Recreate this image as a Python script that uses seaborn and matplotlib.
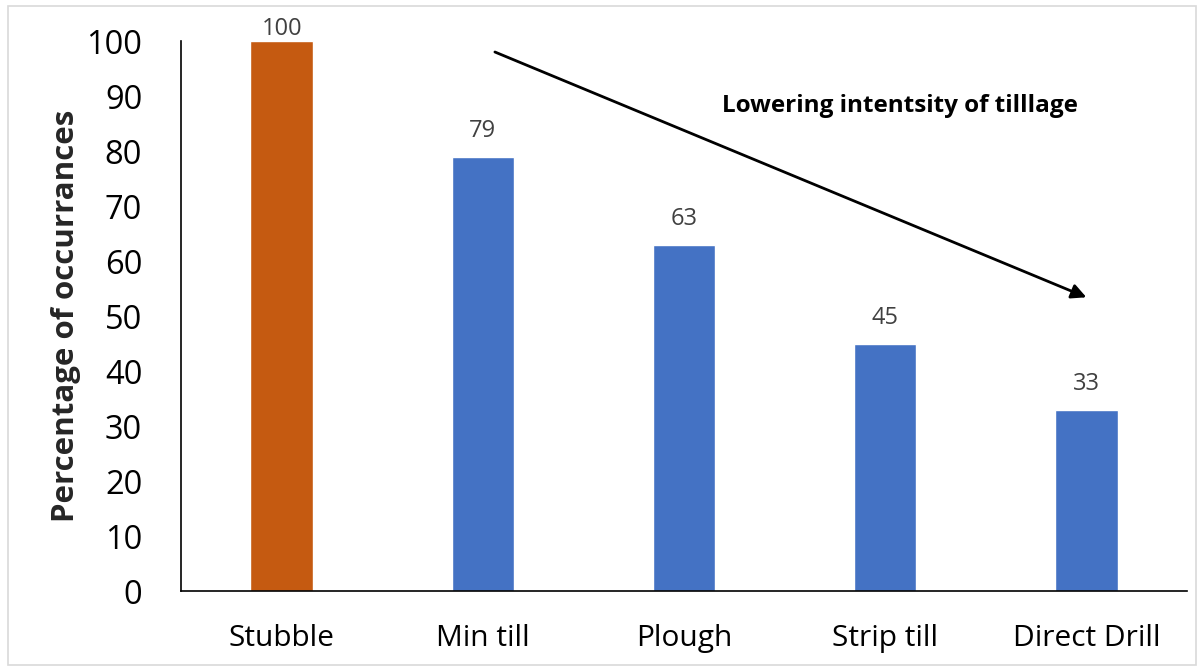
import matplotlib
matplotlib.use("Agg")
import matplotlib.pyplot as plt
import seaborn as sns
import pandas as pd
from matplotlib.patches import Rectangle

categories = ["Stubble", "Min till", "Plough", "Strip till", "Direct Drill"]
values = [100, 79, 63, 45, 33]
bar_colors = ["#C55A11", "#4472C4", "#4472C4", "#4472C4", "#4472C4"]
y_ticks = [0, 10, 20, 30, 40, 50, 60, 70, 80, 90, 100]

sns.set_theme(style="white")
plt.rcParams["font.family"] = ["Open Sans", "DejaVu Sans"]

df = pd.DataFrame({"method": categories, "pct": values})

fig = plt.figure(figsize=(12.03, 6.70), dpi=100)
ax = fig.add_axes([0.1505, 0.1179, 0.8362, 0.8209])

sns.barplot(data=df, x="method", y="pct", hue="method", palette=bar_colors,
            width=0.31, legend=False, ax=ax, saturation=1)

ax.set_xlim(-0.5, 4.5)
ax.set_ylim(0, 100)
ax.set_yticks(y_ticks)
ax.tick_params(axis="y", labelsize=23.5, length=0, pad=28, colors="black")
ax.tick_params(axis="x", labelsize=21.5, length=0, pad=24, colors="black")
ax.set_xlabel("")
ax.set_ylabel("Percentage of occurrances", fontsize=22.5, fontweight="bold",
              labelpad=4)

for side in ("top", "right"):
    ax.spines[side].set_visible(False)
for side in ("left", "bottom"):
    ax.spines[side].set_color("black")
    ax.spines[side].set_linewidth(1.2)

# value labels above each bar
for i, v in enumerate(values):
    off = 0 if v >= 100 else 10
    ax.annotate(str(v), (i, v), xytext=(0, off), textcoords="offset points",
                ha="center", va="bottom", fontsize=17, color="#404040",
                annotation_clip=False)

# trend arrow
ax.annotate("", xy=(4.0, 53.4), xytext=(1.06, 98.0),
            arrowprops=dict(arrowstyle="-|>", color="black", lw=2,
                            mutation_scale=22, shrinkA=0, shrinkB=0))
ax.text(2.19, 88.2, "Lowering intentsity of tilllage", fontsize=17.5,
        fontweight="bold", ha="left", va="center", color="black")

# chart frame
fig.patches.append(Rectangle((0.0067, 0.0075), 0.9875, 0.9835,
                             transform=fig.transFigure, fill=False,
                             edgecolor="#D9D9D9", linewidth=1.2))

fig.savefig("out.png", dpi=100, facecolor="white")
